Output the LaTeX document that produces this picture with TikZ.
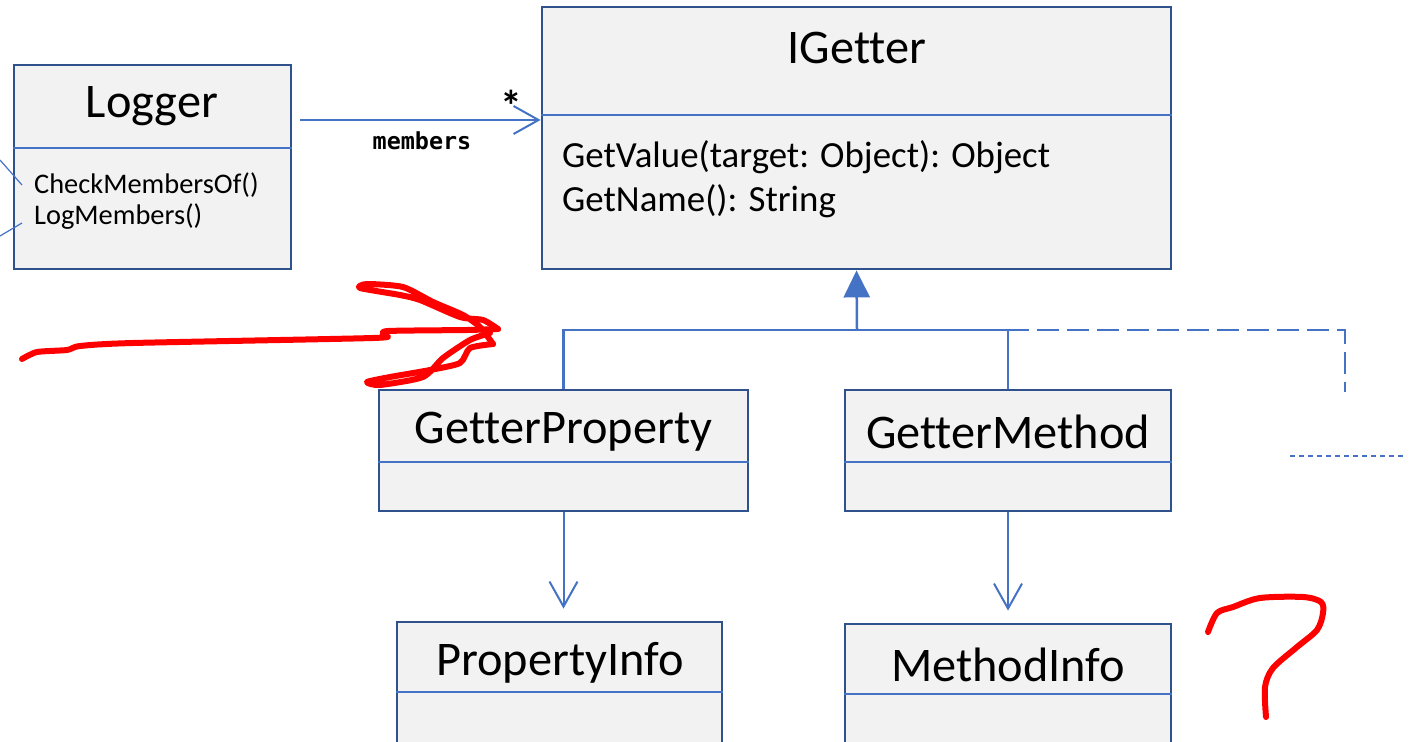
\documentclass[tikz,border=0pt]{standalone}
\usepackage{fontspec}
\setmainfont{Carlito}[Ligatures=NoCommon]
\setmonofont{DejaVu Sans Mono}
\usetikzlibrary{arrows.meta}

\definecolor{boxline}{HTML}{2F528F}
\definecolor{linkcol}{HTML}{4472C4}
\definecolor{boxfill}{HTML}{F2F2F2}
\definecolor{inkred}{HTML}{FF0000}

\newcommand{\titlefont}{\fontsize{48.5}{56}\selectfont}
\newcommand{\bodyfont}{\fontsize{37}{44}\selectfont}
\newcommand{\smallbody}{\fontsize{28.5}{32}\selectfont}

\tikzset{
  classbox/.style={draw=boxline,fill=boxfill,line width=2.8bp,inner sep=0pt},
  divider/.style={draw=linkcol,line width=1.2bp},
  assoc/.style={draw=linkcol,line width=2bp},
  openhead/.style={-{Straight Barb[length=25bp,width=28bp,line width=2bp]}},
  realize/.style={draw=linkcol,line width=2.5bp,dash pattern=on 22bp off 8bp},
  ink/.style={draw=inkred,line width=6bp,line cap=round,line join=round},
}

\begin{document}
\begin{tikzpicture}[x=1bp,y=-1bp]
  \useasboundingbox (0,0) rectangle (1416,741);
  \clip (0,0) rectangle (1416,741);
%%
  % Node: Logger
  \node[classbox,minimum width=277bp,minimum height=204bp] (logger) at (152.5,167) {};
  \draw[divider] (logger.west |- 0,148) -- (logger.east |- 0,148);
  \node[font=\titlefont] (loggername) at (152,106) {Logger};
  \node[font=\smallbody,anchor=west,align=left,inner sep=0pt] (loggerops) at (34,201)
    {CheckMembersOf()\\LogMembers()};
  % Node: IGetter
  \node[classbox,minimum width=629bp,minimum height=262bp] (igetter) at (856.5,138) {};
  \draw[divider] (igetter.west |- 0,115) -- (igetter.east |- 0,115);
  \node[font=\titlefont] (igettername) at (857,48) {IGetter};
  \node[font=\bodyfont,anchor=west,align=left,inner sep=0pt] (igetterops) at (562,179)
    {GetValue(target: Object): Object\\GetName(): String};
  % Node: GetterProperty
  \node[classbox,minimum width=369bp,minimum height=121bp] (gprop) at (563.5,450.5) {};
  \draw[divider] (gprop.west |- 0,462) -- (gprop.east |- 0,462);
  \node[font=\titlefont] (gpropname) at (563.5,432) {GetterProperty};
  % Node: GetterMethod
  \node[classbox,minimum width=326bp,minimum height=121bp] (gmeth) at (1008,450.5) {};
  \draw[divider] (gmeth.west |- 0,462) -- (gmeth.east |- 0,462);
  \node[font=\titlefont] (gmethname) at (1008,432) {GetterMethod};
  % Node: PropertyInfo
  \node[classbox,minimum width=325bp,minimum height=138bp] (pinfo) at (559.5,691) {};
  \draw[divider] (pinfo.west |- 0,692) -- (pinfo.east |- 0,692);
  \node[font=\titlefont] (pinfoname) at (560,663) {PropertyInfo};
  % Node: MethodInfo
  \node[classbox,minimum width=326bp,minimum height=136bp] (minfo) at (1008,692) {};
  \draw[divider] (minfo.west |- 0,694) -- (minfo.east |- 0,694);
  \node[font=\titlefont] (minfoname) at (1008,665) {MethodInfo};
%%
  % Edge: Logger -> IGetter
  \coordinate (memstart) at (300,120);
  \draw[assoc,openhead] (memstart) -- (igetter.west |- memstart);
  \node[font=\ttfamily\bfseries\fontsize{23.5}{26}\selectfont] (memlabel) at (422,141) {members};
  \node[font=\bfseries\fontsize{44}{46}\selectfont] (mult) at (511,106) {*};
  % Edge: GetterProperty, GetterMethod -> IGetter
  \coordinate (junction) at (857,330);
  \draw[assoc,line width=2.5bp] (gprop.north) |- (gmeth.north |- junction) -- (gmeth.north);
  \coordinate (thirdend) at (1345,392);
  \draw[realize] (junction) -| (thirdend);
  \draw[assoc,line width=2.5bp,-{Triangle[length=27bp,width=26bp]}] (junction) -- (igetter.south);
  % Edge: GetterProperty -> PropertyInfo
  \draw[assoc,openhead,shorten >=12bp] (gprop.south) -- (gprop.south |- pinfo.north);
  % Edge: GetterMethod -> MethodInfo
  \draw[assoc,openhead,shorten >=12bp] (gmeth.south) -- (gmeth.south |- minfo.north);
  % loose ends
  \coordinate (dotA) at (1290,456);
  \coordinate (dotB) at (1403,456);
  \draw[draw=linkcol,line width=1.5bp,dash pattern=on 5bp off 4bp] (dotA) -- (dotB);
  \coordinate (cutA) at (0,160);
  \coordinate (cutB) at (0,236);
  \draw[divider] (cutA) -- (22,185);
  \draw[divider] (cutB) -- (22,223);
%%
  % red pen: arrow and question mark
  \draw[ink] plot[smooth,tension=0.4] coordinates {(22,359) (37,352) (67,350) (80,346) (133,343)
    (373,338) (383,335) (388,331) (467,330) (498,329)};
  \draw[ink] plot[smooth,tension=0.4] coordinates {(498,329) (483,320) (460,317) (420,300)
    (400,295) (360,288) (367,284) (403,287) (433,302) (463,315) (480,327) (493,344)};
  \draw[ink] plot[smooth,tension=0.4] coordinates {(493,344) (470,348) (460,363) (430,370)
    (390,377) (367,382) (380,385) (423,377) (443,358) (470,340) (490,333)};
  \draw[ink] plot[smooth,tension=0.5] coordinates {(1208,632) (1217,613) (1233,607) (1260,598)
    (1303,597) (1321,602) (1323,613) (1317,630) (1297,647) (1273,668) (1265,687) (1266,717)};
%
\end{tikzpicture}
\end{document}
